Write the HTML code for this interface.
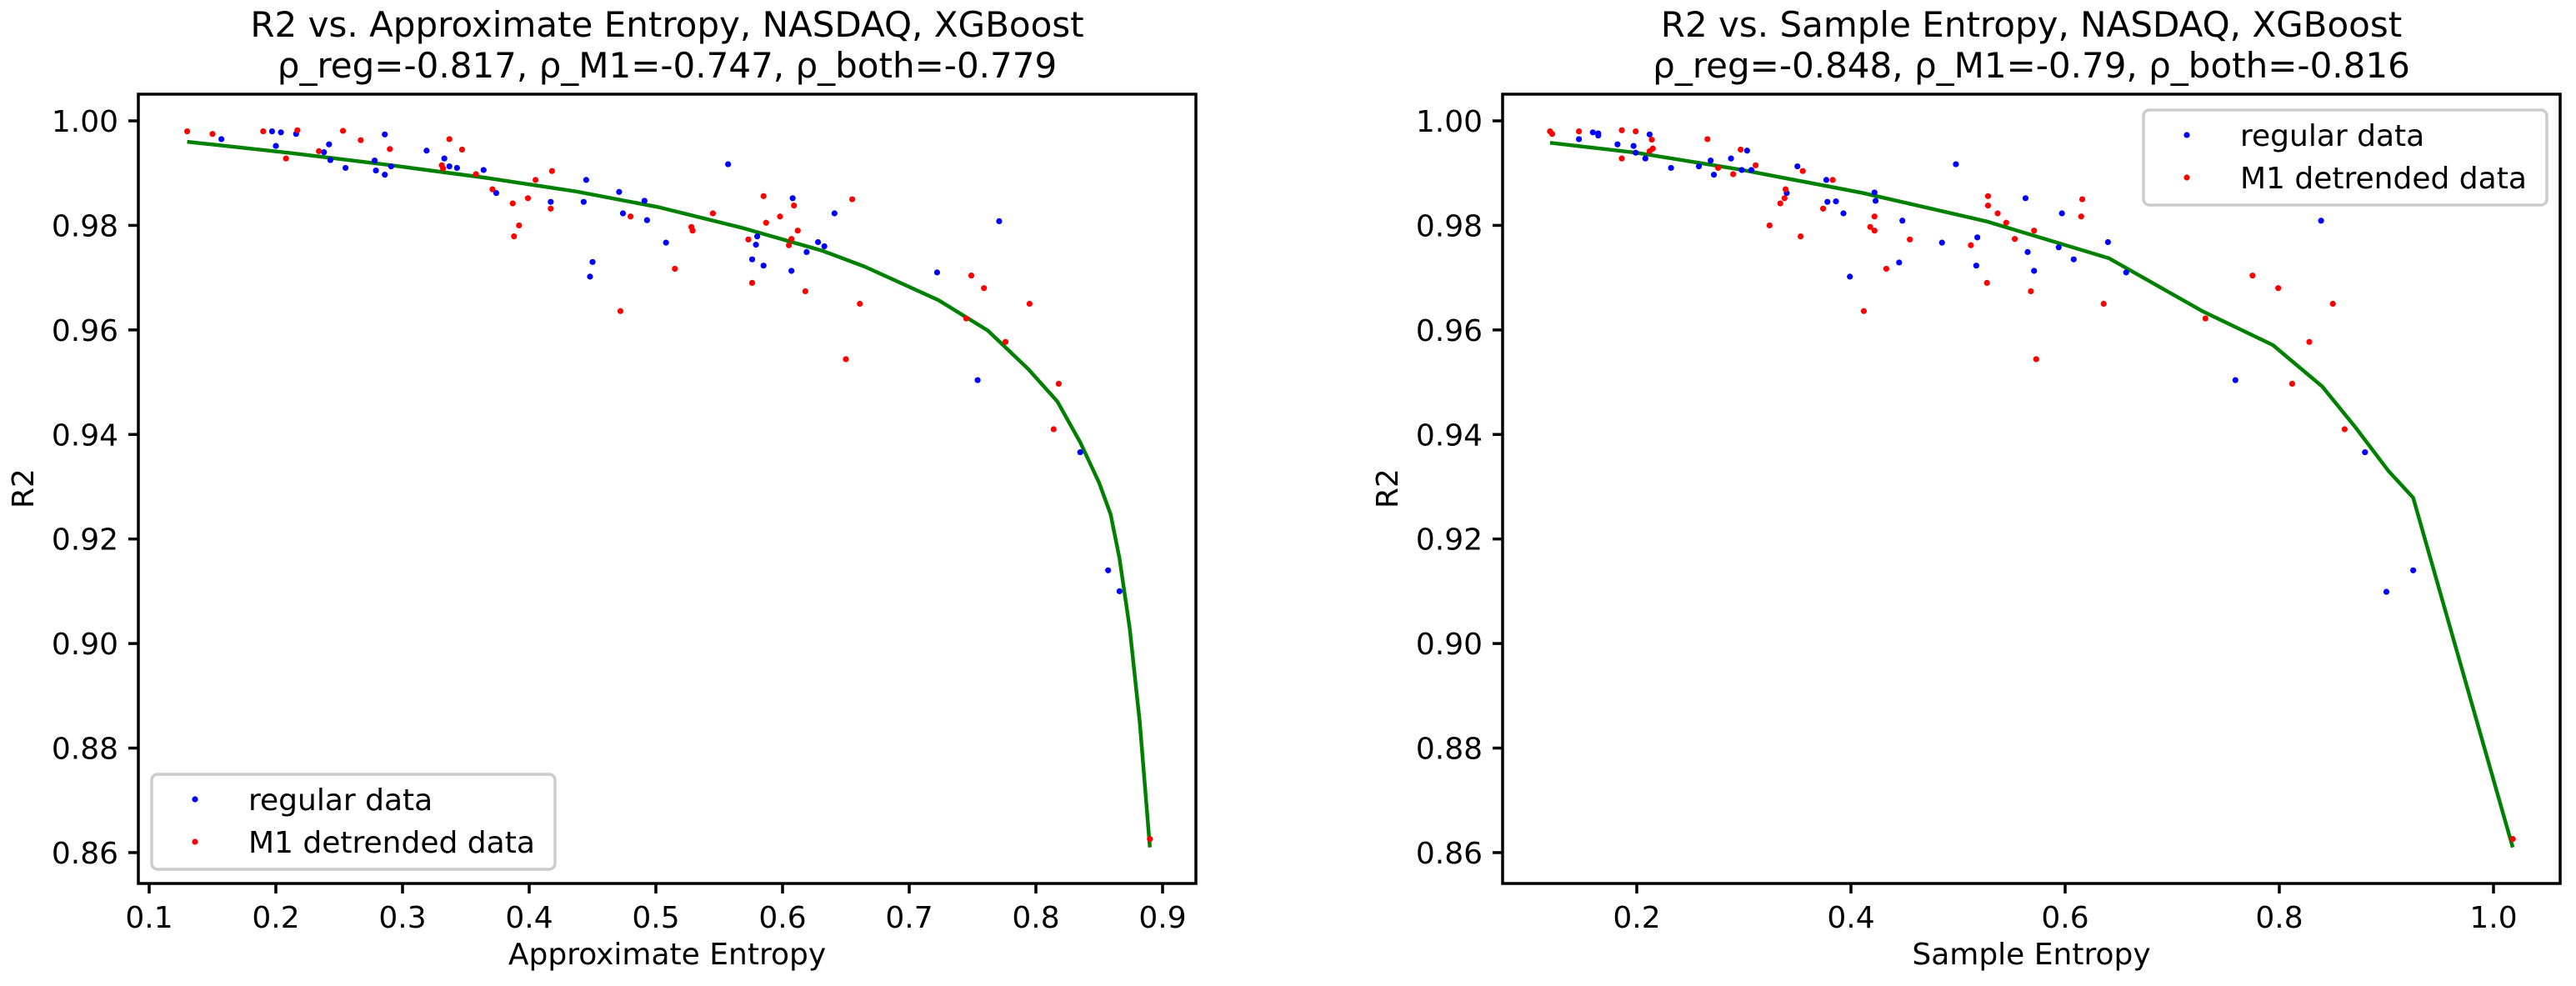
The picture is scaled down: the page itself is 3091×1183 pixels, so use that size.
<!DOCTYPE html>
<html><head><meta charset="utf-8"><style>
html,body{margin:0;padding:0;background:#fff}
svg{display:block}
text{font-family:"DejaVu Sans","Liberation Sans",sans-serif;fill:#000}
</style></head><body>
<svg id="fig" width="3091" height="1183" viewBox="0 0 3091 1183" xmlns="http://www.w3.org/2000/svg"></svg>
<script>
// ---- Left chart data (Approximate Entropy) ----
const apenRegX=[0.157,0.197,0.204,0.200,0.216,0.238,0.242,0.243,0.255,0.278,0.279,0.286,0.286,0.291,0.319,0.333,0.337,0.343,0.364,0.374,0.417,0.443,0.445,0.448,0.450,0.471,0.474,0.491,0.493,0.508,0.557,0.576,0.579,0.580,0.585,0.607,0.608,0.619,0.628,0.633,0.641,0.722,0.754,0.771,0.835,0.857,0.866];
const apenRegY=[0.9965,0.998,0.9978,0.9952,0.9975,0.994,0.9955,0.9925,0.991,0.9924,0.9905,0.9897,0.9974,0.9913,0.9943,0.9928,0.9913,0.991,0.9906,0.9862,0.9845,0.9845,0.9887,0.9702,0.973,0.9864,0.9823,0.9847,0.981,0.9767,0.9917,0.9735,0.9763,0.9779,0.9723,0.9713,0.9852,0.9749,0.9768,0.976,0.9823,0.971,0.9504,0.9808,0.9366,0.914,0.910];
const apenM1X=[0.130,0.150,0.190,0.208,0.217,0.234,0.253,0.267,0.290,0.331,0.332,0.337,0.347,0.358,0.371,0.387,0.388,0.392,0.399,0.405,0.417,0.418,0.472,0.480,0.515,0.528,0.529,0.545,0.573,0.576,0.585,0.587,0.598,0.605,0.607,0.609,0.612,0.618,0.650,0.655,0.661,0.745,0.749,0.759,0.776,0.795,0.814,0.818,0.890];
const apenM1Y=[0.998,0.9975,0.998,0.9928,0.9982,0.9942,0.9981,0.9963,0.9946,0.9915,0.9909,0.9965,0.9945,0.9898,0.9869,0.9842,0.9779,0.980,0.9852,0.9887,0.9832,0.9904,0.9636,0.9817,0.9717,0.9797,0.979,0.9823,0.9773,0.969,0.9856,0.9805,0.9817,0.9762,0.9774,0.9838,0.979,0.9674,0.9544,0.985,0.965,0.9622,0.9704,0.968,0.9577,0.965,0.941,0.9497,0.8626];
const apenFitX=[0.130,0.210,0.288,0.366,0.437,0.502,0.567,0.632,0.665,0.723,0.762,0.794,0.817,0.835,0.850,0.859,0.866,0.874,0.882,0.890];
const apenFitY=[0.996,0.9939,0.9916,0.9891,0.9865,0.9835,0.9796,0.9751,0.9721,0.9657,0.9599,0.9525,0.9463,0.9385,0.9307,0.9247,0.9163,0.903,0.885,0.861];
const apenXTicks=[0.1,0.2,0.3,0.4,0.5,0.6,0.7,0.8,0.9];
const apenXTickLabels=["0.1","0.2","0.3","0.4","0.5","0.6","0.7","0.8","0.9"];
// ---- Right chart data (Sample Entropy) ----
const sampRegX=[0.146,0.159,0.164,0.164,0.182,0.197,0.199,0.208,0.212,0.232,0.258,0.269,0.272,0.288,0.298,0.303,0.307,0.350,0.340,0.377,0.378,0.386,0.393,0.399,0.422,0.423,0.445,0.448,0.485,0.498,0.517,0.518,0.563,0.565,0.571,0.594,0.597,0.608,0.640,0.657,0.759,0.839,0.880,0.900,0.925];
const sampRegY=[0.9965,0.9978,0.9976,0.9972,0.9955,0.9952,0.9939,0.9928,0.9974,0.991,0.9913,0.9924,0.9897,0.9928,0.9906,0.9943,0.9906,0.9913,0.9862,0.9887,0.9845,0.9846,0.9823,0.9702,0.9863,0.9847,0.9729,0.9809,0.9767,0.9917,0.9723,0.9777,0.9852,0.9749,0.9713,0.9758,0.9823,0.9735,0.9768,0.971,0.9504,0.9809,0.9366,0.9099,0.914];
const sampM1X=[0.119,0.121,0.146,0.186,0.186,0.199,0.212,0.214,0.215,0.266,0.276,0.290,0.297,0.311,0.324,0.334,0.338,0.339,0.353,0.355,0.374,0.383,0.412,0.418,0.422,0.422,0.433,0.455,0.512,0.527,0.528,0.528,0.537,0.545,0.553,0.568,0.571,0.573,0.615,0.616,0.636,0.731,0.775,0.799,0.812,0.828,0.850,0.861,1.018];
const sampM1Y=[0.998,0.9975,0.998,0.9982,0.9928,0.998,0.9942,0.9964,0.9947,0.9965,0.991,0.9898,0.9945,0.9915,0.980,0.9842,0.9852,0.9869,0.9779,0.9904,0.9832,0.9887,0.9636,0.9797,0.979,0.9817,0.9717,0.9773,0.9762,0.969,0.9856,0.9838,0.9823,0.9805,0.9774,0.9674,0.979,0.9544,0.9817,0.985,0.965,0.9622,0.9704,0.968,0.9497,0.9577,0.965,0.941,0.8626];
const sampFitX=[0.119,0.200,0.296,0.411,0.526,0.641,0.729,0.794,0.840,0.871,0.902,0.925,1.018];
const sampFitY=[0.9958,0.9939,0.9907,0.9862,0.9808,0.9737,0.9635,0.9571,0.9492,0.9414,0.933,0.9279,0.861];
const sampXTicks=[0.2,0.4,0.6,0.8,1.0];
const sampXTickLabels=["0.2","0.4","0.6","0.8","1.0"];
// ---- shared y axis ----
const yTicks=[0.86,0.88,0.90,0.92,0.94,0.96,0.98,1.00];
const yTickLabels=["0.86","0.88","0.90","0.92","0.94","0.96","0.98","1.00"];

const NS="http://www.w3.org/2000/svg";
const svg=document.getElementById('fig');
function mk(tag,attrs,parent){const e=document.createElementNS(NS,tag);for(const k in attrs)e.setAttribute(k,attrs[k]);(parent||svg).appendChild(e);return e;}
function yScale(v){return 145+(1-v)*6271;}

function drawPanel(p){
  const g=mk('g',{});
  
  
  const xs=v=>p.x0+(v-p.v0)*p.k;
  let d='';
  p.fitX.forEach((v,i)=>{d+=(i?'L':'M')+xs(v).toFixed(1)+' '+yScale(p.fitY[i]).toFixed(1);});
  const line=mk('path',{d:d,fill:'none',stroke:'#008000','stroke-width':4.5,'stroke-linejoin':'round'},g);
  
  
  p.regX.forEach((v,i)=>{const c=mk('circle',{cx:xs(v),cy:yScale(p.regY[i]),r:3.6,fill:'#0000ff'},g);
    
    });
  p.m1X.forEach((v,i)=>{const c=mk('circle',{cx:xs(v),cy:yScale(p.m1Y[i]),r:3.6,fill:'#ff0000'},g);
    
    });
  const fr=mk('rect',{x:p.L,y:113,width:p.R-p.L,height:1060-113,fill:'none',stroke:'#000','stroke-width':3.5},g);
  
  
  p.xt.forEach((v,i)=>{const x=xs(v);
    mk('line',{x1:x,y1:1060,x2:x,y2:1072,stroke:'#000','stroke-width':3.5},g);
    const t=mk('text',{x:x,y:1113,'font-size':36,'text-anchor':'middle'},g);t.textContent=p.xtl[i];
    
    });
  yTicks.forEach((v,i)=>{const y=yScale(v);
    mk('line',{x1:p.L-12,y1:y,x2:p.L,y2:y,stroke:'#000','stroke-width':3.5},g);
    const t=mk('text',{x:p.L-24,y:y+13,'font-size':36,'text-anchor':'end'},g);t.textContent=yTickLabels[i];
    
    });
  const cx=(p.L+p.R)/2;
  const t1=mk('text',{x:cx,y:44,'font-size':42,'text-anchor':'middle'},g);t1.textContent=p.title1;
  
  
  const t2=mk('text',{x:cx,y:93,'font-size':42,'text-anchor':'middle'},g);t2.textContent=p.title2;
  
  
  const xl=mk('text',{x:cx,y:1157,'font-size':36,'text-anchor':'middle'},g);xl.textContent=p.xlabel;
  
  
  const yl=mk('text',{x:0,y:0,'font-size':36,'text-anchor':'middle',transform:'translate('+(p.L-126)+',586) rotate(-90)'},g);yl.textContent='R2';
  
  
  const lg=mk('g',{},g);
  
  
  mk('rect',{x:p.lx,y:p.ly,width:484,height:114,rx:7,fill:'#fff','fill-opacity':0.8,stroke:'#cccccc','stroke-width':3.5},lg);
  [['regular data','#0000ff',30],['M1 detrended data','#ff0000',81]].forEach(([lab,col,dy])=>{
    mk('circle',{cx:p.lx+52,cy:p.ly+dy,r:3.6,fill:col},lg);
    const t=mk('text',{x:p.lx+116,y:p.ly+dy+13,'font-size':36},lg);t.textContent=lab;
    
    
  });
}
drawPanel({name:'approx-entropy-chart',L:166,R:1435,x0:179,v0:0.1,k:1520,fitX:apenFitX,fitY:apenFitY,regX:apenRegX,regY:apenRegY,m1X:apenM1X,m1Y:apenM1Y,xt:apenXTicks,xtl:apenXTickLabels,
  title1:'R2 vs. Approximate Entropy, NASDAQ, XGBoost',title2:'ρ_reg=-0.817, ρ_M1=-0.747, ρ_both=-0.779',xlabel:'Approximate Entropy',lx:182,ly:929});
drawPanel({name:'sample-entropy-chart',L:1803,R:3072,x0:1964,v0:0.2,k:1285,fitX:sampFitX,fitY:sampFitY,regX:sampRegX,regY:sampRegY,m1X:sampM1X,m1Y:sampM1Y,xt:sampXTicks,xtl:sampXTickLabels,
  title1:'R2 vs. Sample Entropy, NASDAQ, XGBoost',title2:'ρ_reg=-0.848, ρ_M1=-0.79, ρ_both=-0.816',xlabel:'Sample Entropy',lx:2572,ly:132});
</script>
</body></html>
